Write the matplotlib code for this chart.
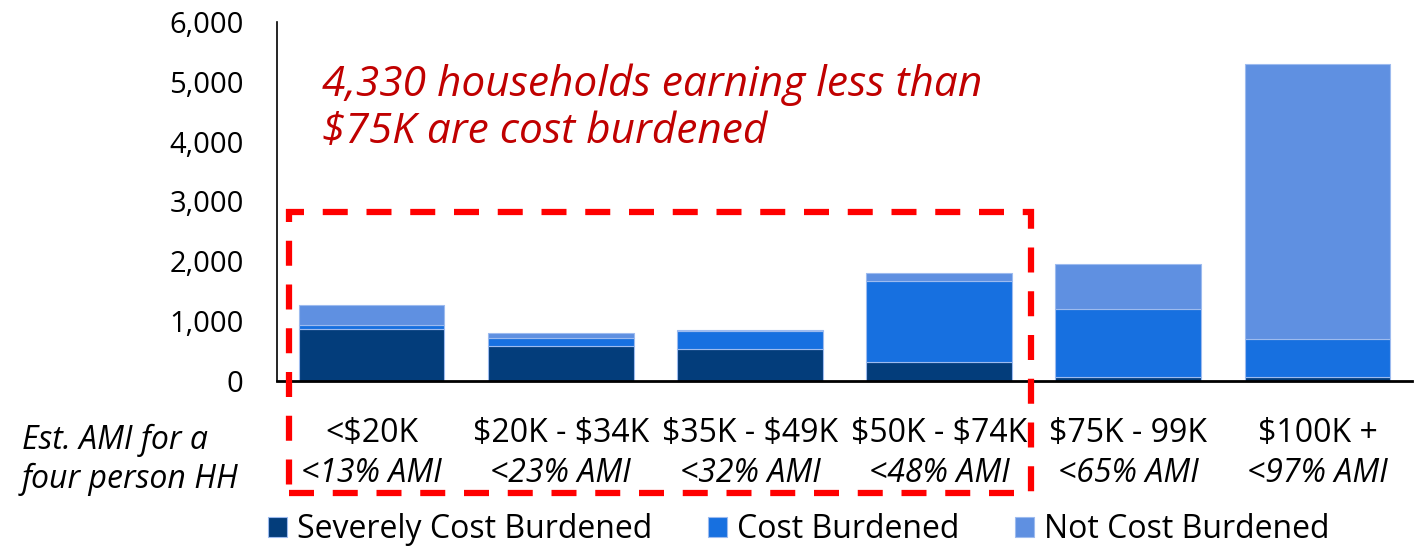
import matplotlib
matplotlib.use("Agg")
import matplotlib.pyplot as plt
import numpy as np
from matplotlib.patches import Rectangle

plt.rcParams['font.family'] = ['Open Sans', 'DejaVu Sans']
plt.rcParams['text.parse_math'] = False

# data
incomeBands = ["<$20K", "$20K - $34K", "$35K - $49K", "$50K - $74K", "$75K - 99K", "$100K +"]
amiShares = ["<13% AMI", "<23% AMI", "<32% AMI", "<48% AMI", "<65% AMI", "<97% AMI"]
severelyBurdened = [865, 590, 530, 323, 72, 62]
costBurdened = [75, 134, 306, 1354, 1127, 635]
notBurdened = [335, 79, 17, 124, 752, 4604]
yTicks = [0, 1000, 2000, 3000, 4000, 5000, 6000]

seriesNames = ["Severely Cost Burdened", "Cost Burdened", "Not Cost Burdened"]
seriesColors = ["#033D7B", "#1770E0", "#5F90E1"]

fig = plt.figure(figsize=(14.24, 5.49), dpi=100)
ax = fig.add_axes([277 / 1424, 1 - 381 / 549, (1412 - 277) / 1424, (381 - 22) / 549])

x = np.arange(len(incomeBands))
bottom = np.zeros(len(incomeBands))
for values, name, color in zip([severelyBurdened, costBurdened, notBurdened], seriesNames, seriesColors):
    ax.bar(x, values, width=0.77, bottom=bottom, color=color, edgecolor="#9DBBEF",
           linewidth=0.8, label=name)
    bottom += np.array(values)

ax.set_xlim(-0.5, len(incomeBands) - 0.5)
ax.set_ylim(0, 6000)
ax.set_yticks(yTicks)
ax.set_yticklabels(["{:,}".format(t) for t in yTicks], fontsize=21)
ax.tick_params(axis="y", length=0, pad=24)
ax.set_xticks([])
for side in ["top", "right"]:
    ax.spines[side].set_visible(False)
ax.spines["left"].set_linewidth(1.2)
ax.spines["bottom"].set_linewidth(2)

# two line category labels
for i in range(len(incomeBands)):
    ax.text(x[i], -0.145, incomeBands[i], transform=ax.get_xaxis_transform(),
            ha="center", va="center", fontsize=23)
    ax.text(x[i], -0.258, amiShares[i], transform=ax.get_xaxis_transform(),
            ha="center", va="center", fontsize=23, style="italic")

fig.text(22 / 1424, 1 - 460 / 549, "Est. AMI for a\nfour person HH", ha="left", va="center",
         fontsize=23, style="italic", linespacing=1.2)

fig.text(322 / 1424, 1 - 108 / 549, "4,330 households earning less than\n$75K are cost burdened",
         ha="left", va="center", fontsize=30.5, style="italic", color="#C00000", linespacing=1.15)

# dashed highlight box
box = Rectangle((289 / 1424, 1 - 493 / 549), (1031 - 289) / 1424, (493 - 212) / 549,
                transform=fig.transFigure, fill=False, edgecolor="#FF0000", linewidth=4.5,
                linestyle=(0, (4, 3)), zorder=5)
fig.add_artist(box)

fig.legend(loc="center left", bbox_to_anchor=(268 / 1424, 1 - 530 / 549), ncol=3, frameon=False,
           fontsize=23, handlelength=0.6, handleheight=0.6, handletextpad=0.3,
           columnspacing=1.75, borderpad=0, borderaxespad=0)

fig.savefig("out.png", dpi=100)
